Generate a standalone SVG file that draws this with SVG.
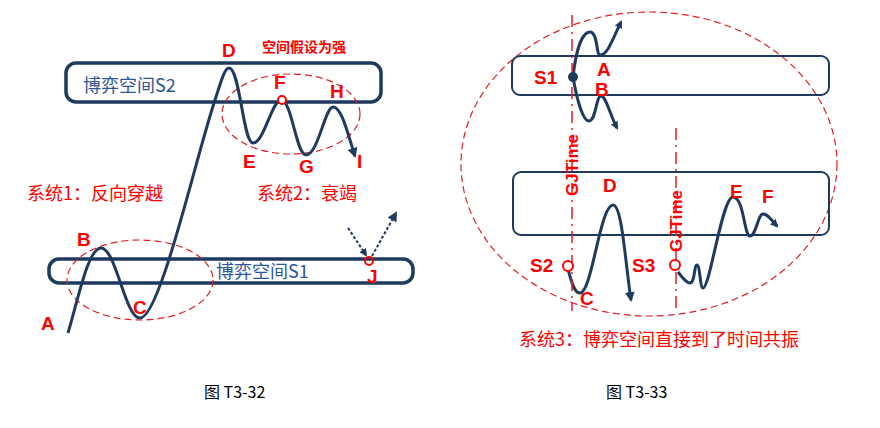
<svg xmlns="http://www.w3.org/2000/svg" width="880" height="428" viewBox="0 0 880 428">
<style>
.box{fill:none;stroke:#1f3a5f;stroke-width:3.5}
.cur{fill:none;stroke:#1f3a5f;stroke-width:3}
.ell{fill:none;stroke:#e02020;stroke-width:1.2;stroke-dasharray:7 4}
.vl{fill:none;stroke:#e02020;stroke-width:1.5;stroke-dasharray:12 5 2 5}
.lb{font-family:"Liberation Sans",Arial,sans-serif;font-weight:bold;font-size:19px;fill:#ff0000}
.cn{font-family:"Noto Sans CJK SC",sans-serif;font-size:18px;fill:#ff0000}
.bl{font-family:"Noto Sans CJK SC",sans-serif;font-size:18px;fill:#2f5597}
.cap{font-family:"Noto Sans CJK SC",sans-serif;font-size:16px;fill:#000}
.gj{font-family:"Liberation Sans",Arial,sans-serif;font-weight:bold;font-size:17px;fill:#ff0000}
</style>
<defs>
<marker id="ah" markerWidth="8" markerHeight="8" refX="6" refY="4" orient="auto" markerUnits="userSpaceOnUse"><path d="M0,0 L8,4 L0,8 Z" fill="#1f3a5f"/></marker>
<marker id="ah2" markerWidth="10" markerHeight="10" refX="8" refY="5" orient="auto" markerUnits="userSpaceOnUse"><path d="M0,0 L10,5 L0,10 Z" fill="#1f3a5f"/></marker>
</defs>
<g id="left-boxes">
<rect id="S2box" class="box" x="66" y="63" width="315" height="39" rx="10"/>
<rect id="S1box" class="box" x="49" y="259" width="364" height="24" rx="10"/>
<text class="bl" x="83" y="92">博弈空间S2</text>
<text class="bl" x="216" y="278">博弈空间S1</text>
</g>
<g id="left-ellipses">
<ellipse class="ell" cx="140" cy="280" rx="73" ry="40"/>
<ellipse class="ell" cx="291" cy="114" rx="69" ry="40"/>
</g>
<g id="connectors">
<path class="cur" marker-end="url(#ah2)" d="M68,333 C78,300 88,248 101,248 C116,248 125,318 140,318 C160,318 195,160 215,100 C222,78 225,68 229,68 C240,68 243,143 253,143 C264,143 272,100 281,100 C292,100 296,155 306,155 C318,155 325,107 333,107 C342,107 348,135 355,156"/>
<path fill="none" stroke="#1f3a5f" stroke-width="2" stroke-dasharray="3 2" marker-end="url(#ah)" d="M348,228 L366,255"/>
<path fill="none" stroke="#1f3a5f" stroke-width="2" stroke-dasharray="3 2" marker-end="url(#ah2)" d="M372,256 L396,213"/>
<path class="cur" marker-end="url(#ah)" d="M573,77 C576,50 582,32 590,32 C598,32 596,55 600,55 C608,55 613,38 621,22"/>
<path class="cur" marker-end="url(#ah)" d="M573,77 C577,100 583,121 589,121 C596,121 596,96 601,96 C606,96 610,115 617,128"/>
<path class="cur" marker-end="url(#ah2)" d="M568,269 C572,285 575,293 580,293 C592,293 600,205 613,205 C622,205 625,260 631,300"/>
<path class="cur" marker-end="url(#ah)" d="M678,272 C684,280 688,283 690,283 C695,283 694,265 697,265 C700,265 700,288 703,288 C710,288 722,197 733,197 C744,197 744,236 750,236 C756,236 758,214 763,214 C768,214 771,220 777,226"/>
</g>
<g id="left-labels">
<text class="lb" x="222" y="57">D</text>
<text class="lb" x="262" y="52" style="font-size:14px;font-family:'Noto Sans CJK SC',sans-serif">空间假设为强</text>
<text class="lb" x="274" y="89">F</text>
<text class="lb" x="330" y="98">H</text>
<text class="lb" x="243" y="168">E</text>
<text class="lb" x="299" y="173">G</text>
<text class="lb" x="357" y="168">I</text>
<text class="lb" x="77" y="246">B</text>
<text class="lb" x="133" y="314">C</text>
<text class="lb" x="41" y="330">A</text>
<text class="lb" x="367" y="283">J</text>
<text class="cn" x="27" y="200">系统1：反向穿越</text>
<text class="cn" x="257" y="200">系统2：衰竭</text>
<circle cx="282" cy="100" r="4" fill="#fff" stroke="#ff0000" stroke-width="2"/>
<circle cx="369" cy="261" r="4" fill="none" stroke="#ff0000" stroke-width="2"/>
</g>
<g id="right">
<ellipse class="ell" cx="649" cy="164" rx="188" ry="152"/>
<rect class="box" style="stroke-width:2" x="512" y="56" width="317" height="39" rx="8"/>
<rect class="box" style="stroke-width:2" x="513" y="172" width="316" height="63" rx="8"/>
<line class="vl" x1="572" y1="15" x2="572" y2="311"/>
<line class="vl" x1="676" y1="128" x2="676" y2="311"/>
<text class="gj" transform="translate(578,196) rotate(-90)">GJTime</text>
<text class="gj" transform="translate(682,252) rotate(-90)">GJTime</text>
<circle cx="573" cy="77" r="5" fill="#1f3a5f"/>
<text class="lb" x="534" y="84">S1</text>
<text class="lb" x="597" y="76">A</text>
<text class="lb" x="595" y="96">B</text>
<text class="lb" x="603" y="192">D</text>
<text class="lb" x="730" y="198">E</text>
<text class="lb" x="762" y="203">F</text>
<text class="lb" x="530" y="272">S2</text>
<circle cx="568" cy="266" r="5" fill="#fff" stroke="#ff0000" stroke-width="2"/>
<text class="lb" x="632" y="272">S3</text>
<circle cx="675" cy="265" r="5" fill="#fff" stroke="#ff0000" stroke-width="2"/>
<text class="lb" x="580" y="305">C</text>
<text class="cn" x="519" y="346">系统3：博弈空间直接到了时间共振</text>
</g>
<g id="captions">
<text class="cap" x="204" y="398">图 T3-32</text>
<text class="cap" x="606" y="398">图 T3-33</text>
</g>
</svg>
